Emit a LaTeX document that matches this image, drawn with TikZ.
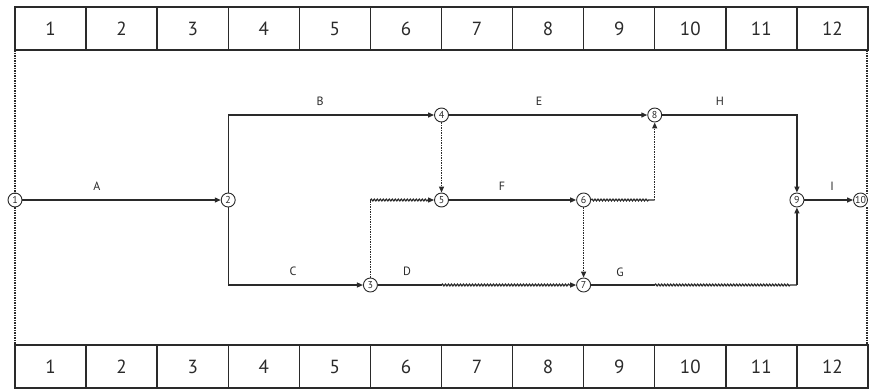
\documentclass[tikz,border=0pt]{standalone}
\usepackage{fontspec}
\setmainfont{PT Sans}
\usetikzlibrary{arrows.meta,decorations.pathmorphing,calc}
\definecolor{ink}{HTML}{2A2A2A}
\begin{document}
\begin{tikzpicture}[x=1pt,y=-1pt,
  cell/.style={draw=ink,line width=1.4pt,minimum width=71.08pt,minimum height=43pt,inner sep=0pt,font=\fontsize{19}{19}\selectfont,text=ink},
  ev/.style={draw=ink,circle,line width=0.9pt,minimum size=14pt,inner sep=0pt,font=\fontsize{10}{10}\selectfont,text=ink,fill=white},
  act/.style={draw=ink,line width=1.3pt},
  arr/.style={-{Triangle[length=6pt,width=5pt]}},
  dum/.style={draw=ink,line width=1.2pt,dash pattern=on 1.5pt off 1pt},
  wavy/.style={draw=ink,line width=1.2pt,decorate,decoration={snake,amplitude=0.9pt,segment length=3pt,post length=6pt}},
  lab/.style={font=\fontsize{12}{12}\selectfont,text=ink}]
\useasboundingbox (0,0) rectangle (869,389);
% time scale tables
\foreach \i in {1,...,12}{
  \node[cell] (top\i) at ({15+(\i-0.5)*71.08},28.5) {\i};
  \node[cell] (bot\i) at ({15+(\i-0.5)*71.08},366.5) {\i};
}
% events
\node[ev] (n1) at (15,200) {1};
\node[ev] (n2) at (228.2,200) {2};
\node[ev] (n3) at (370.4,285) {3};
\node[ev] (n4) at (441.5,115) {4};
\node[ev] (n5) at (441.5,200) {5};
\node[ev] (n6) at (583.6,200) {6};
\node[ev] (n7) at (583.6,285) {7};
\node[ev] (n8) at (654.7,115) {8};
\node[ev] (n9) at (796.9,200) {9};
\node[ev] (n10) at (860.5,200) {10};
% helper points
\coordinate (lt) at (15,50);
\coordinate (lb) at (15,345);
\coordinate (rt) at (867,50);
\coordinate (rm) at (867,193);
\coordinate (rm2) at (867,207);
\coordinate (rb) at (867,345);
\coordinate (c35) at (370.4,200);
\coordinate (d1) at (441.5,285);
\coordinate (c68) at (654.7,200);
\coordinate (g1) at (654.7,285);
\coordinate (g2) at (796.9,285);
% boundary dotted lines
\draw[dum] (lt) -- (n1);
\draw[dum] (n1) -- (lb);
\draw[dum] (rt) -- (rm);
\draw[dum] (rm2) -- (rb);
% activities
\draw[act,arr] (n1) -- (n2);
\draw[act,arr] (n2) |- (n4);
\draw[act,arr] (n2) |- (n3);
\draw[act] (n3) -- (d1);
\draw[wavy,arr] (d1) -- (n7);
\draw[act,arr] (n4) -- (n8);
\draw[act,arr] (n5) -- (n6);
\draw[act] (n7) -- (g1);
\draw[wavy] (g1) -- (g2);
\draw[act,arr] (g2) -- (n9);
\draw[act,arr] (n8) -| (n9);
\draw[act,arr] (n9) -- (n10);
% dummies
\draw[dum,arr] (n4) -- (n5);
\draw[dum] (n3) -- (c35);
\draw[wavy,arr] (c35) -- (n5);
\draw[dum,arr] (n6) -- (n7);
\draw[wavy] (n6) -- (c68);
\draw[dum,arr] (c68) -- (n8);
% labels
\node[lab] (lA) at (97,186) {A};
\node[lab] (lB) at (320,101) {B};
\node[lab] (lC) at (293,271) {C};
\node[lab] (lD) at (407,271) {D};
\node[lab] (lE) at (539,101) {E};
\node[lab] (lF) at (502,186) {F};
\node[lab] (lG) at (620,272) {G};
\node[lab] (lH) at (720,101) {H};
\node[lab] (lI) at (832,186) {I};
\end{tikzpicture}
\end{document}
